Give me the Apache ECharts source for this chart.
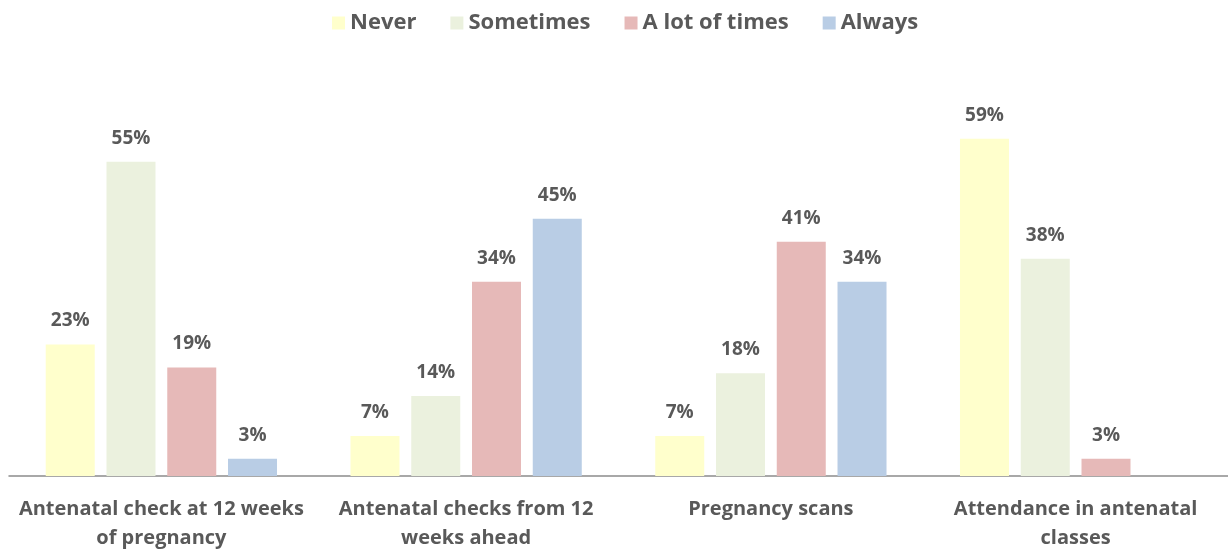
<!DOCTYPE html>
<html>
<head>
<meta charset="utf-8">
<script src="https://cdn.jsdelivr.net/npm/echarts@6/dist/echarts.min.js"></script>
<style>
  html, body { margin: 0; padding: 0; background: #fff; }
  #chart { width: 1228px; height: 553px; }
</style>
</head>
<body>
<div id="chart"></div>
<script>
// Antenatal care survey: share of responses per frequency band
const categories = [
  'Antenatal check at 12 weeks\nof pregnancy',
  'Antenatal checks from 12\nweeks ahead',
  'Pregnancy scans',
  'Attendance in antenatal\nclasses'
];
const seriesNames = ['Never', 'Sometimes', 'A lot of times', 'Always'];
const never = [23, 7, 7, 59];
const sometimes = [55, 14, 18, 38];
const aLotOfTimes = [19, 34, 41, 3];
const always = [3, 45, 34, null];

const colors = ['#FFFFCC', '#EBF1DE', '#E6B9B8', '#B9CDE5'];
const textColor = '#595959';
const fontFamily = '"Open Sans", Lato, sans-serif';

const chart = echarts.init(document.getElementById('chart'), null, { renderer: 'canvas' });

const values = [never, sometimes, aLotOfTimes, always];

chart.setOption({
  animation: false,
  color: colors,
  textStyle: { fontFamily: fontFamily },
  legend: {
    top: 7,
    left: 327,
    itemWidth: 13,
    itemHeight: 13,
    itemGap: 34,
    icon: 'rect',
    textStyle: { color: textColor, fontSize: 22, fontWeight: 'bold', fontFamily: fontFamily }
  },
  grid: { left: 9, right: -2, top: 76, bottom: 72, containLabel: false },
  xAxis: {
    type: 'category',
    data: categories,
    axisTick: { show: false },
    axisLine: { lineStyle: { color: '#8C8C8C', width: 1.5 } },
    axisLabel: {
      color: textColor,
      fontSize: 20,
      fontWeight: 'bold',
      fontFamily: fontFamily,
      margin: 19,
      lineHeight: 29,
      interval: 0
    }
  },
  yAxis: {
    type: 'value',
    min: 0,
    max: 70,
    show: false,
    splitLine: { show: false }
  },
  series: seriesNames.map((name, i) => ({
    name: name,
    type: 'bar',
    data: values[i],
    barWidth: 49,
    barGap: '24%',
    itemStyle: { color: colors[i] },
    label: {
      show: true,
      position: 'top',
      distance: 14,
      formatter: '{c}%',
      color: textColor,
      fontSize: 19,
      fontWeight: 'bold',
      fontFamily: fontFamily
    }
  }))
});
</script>
</body>
</html>
